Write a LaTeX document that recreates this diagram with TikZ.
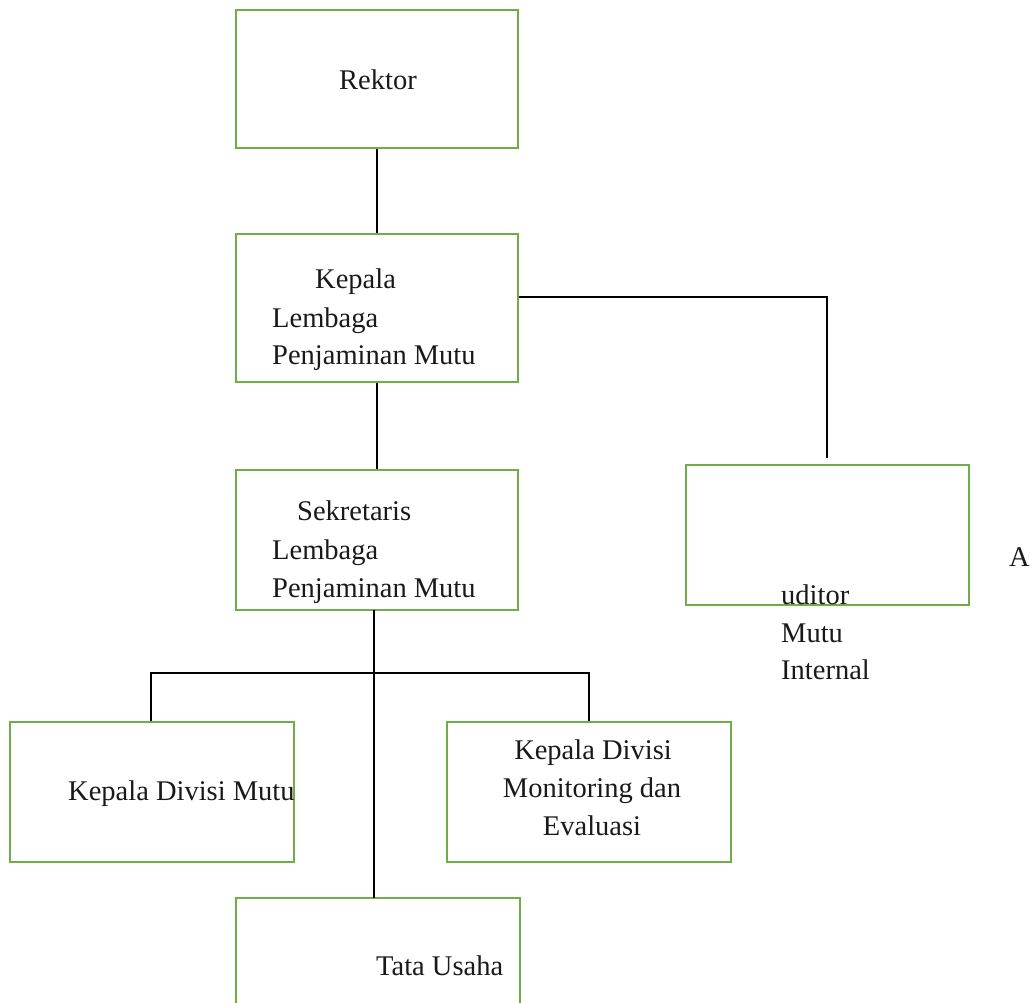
\documentclass[tikz,border=0pt]{standalone}
\usepackage{fontspec}
\setmainfont{Liberation Serif}
\definecolor{boxgreen}{RGB}{112,173,71}
\definecolor{txt}{RGB}{25,25,25}
\tikzset{
  orgbox/.style={draw=boxgreen, line width=2pt, rectangle, inner sep=0pt},
  conn/.style={draw=black, line width=1.5pt},
  lbl/.style={anchor=base west, inner sep=0pt, text=txt, font=\fontsize{28.5}{38}\selectfont},
  clbl/.style={anchor=base, inner sep=0pt, text=txt, font=\fontsize{28.5}{38}\selectfont}
}
\begin{document}
\begin{tikzpicture}[x=1pt,y=-1pt]
\useasboundingbox (0,0) rectangle (1030,1003);
\clip (0,0) rectangle (1030,1003);
% boxes
\node[orgbox, minimum width=282pt, minimum height=138pt] (rektor) at (377,79) {};
\node[orgbox, minimum width=282pt, minimum height=148pt] (kepala) at (377,308) {};
\node[orgbox, minimum width=282pt, minimum height=140pt] (sek) at (377,540) {};
\node[orgbox, minimum width=283pt, minimum height=140pt] (aud) at (827.5,535) {};
\node[orgbox, minimum width=284pt, minimum height=140pt] (kdm) at (152,792) {};
\node[orgbox, minimum width=284pt, minimum height=140pt] (mon) at (589,792) {};
\node[orgbox, minimum width=284pt, minimum height=200pt] (tu) at (378,998) {};
% texts
\node[clbl] (t1) at (378,90) {Rektor};
\node[lbl] (t2a) at (315,288) {Kepala};
\node[lbl] (t2b) at (272,327) {Lembaga};
\node[lbl] (t2c) at (272,364) {Penjaminan Mutu};
\node[lbl] (t3a) at (297,520) {Sekretaris};
\node[lbl] (t3b) at (272,559) {Lembaga};
\node[lbl] (t3c) at (272,597) {Penjaminan Mutu};
\node[lbl] (t4a) at (1009,566) {A};
\node[lbl] (t4b) at (781,604) {uditor};
\node[lbl] (t4c) at (781,642) {Mutu};
\node[lbl] (t4d) at (781,679) {Internal};
\node[lbl] (t5) at (68,800) {Kepala Divisi Mutu};
\node[clbl] (t6a) at (593,759) {Kepala Divisi};
\node[clbl] (t6b) at (592,797) {Monitoring dan};
\node[clbl] (t6c) at (592,835) {Evaluasi};
\node[lbl] (t7) at (376,975) {Tata Usaha};
% connectors
\coordinate (audtop) at (827,458);
\coordinate (bar) at (0,673);
\coordinate (sekbot) at (374,610);
\coordinate (tutop) at (374,898);
\draw[conn] (rektor.south) -- (kepala.north);
\draw[conn] (kepala.south) -- (sek.north);
\draw[conn] ([yshift=11pt]kepala.east) -| (audtop);
\draw[conn] (sekbot) -- (tutop);
\draw[conn] ([xshift=-1pt]kdm.north) |- (bar -| mon.north) -- (mon.north);
\end{tikzpicture}
\end{document}
